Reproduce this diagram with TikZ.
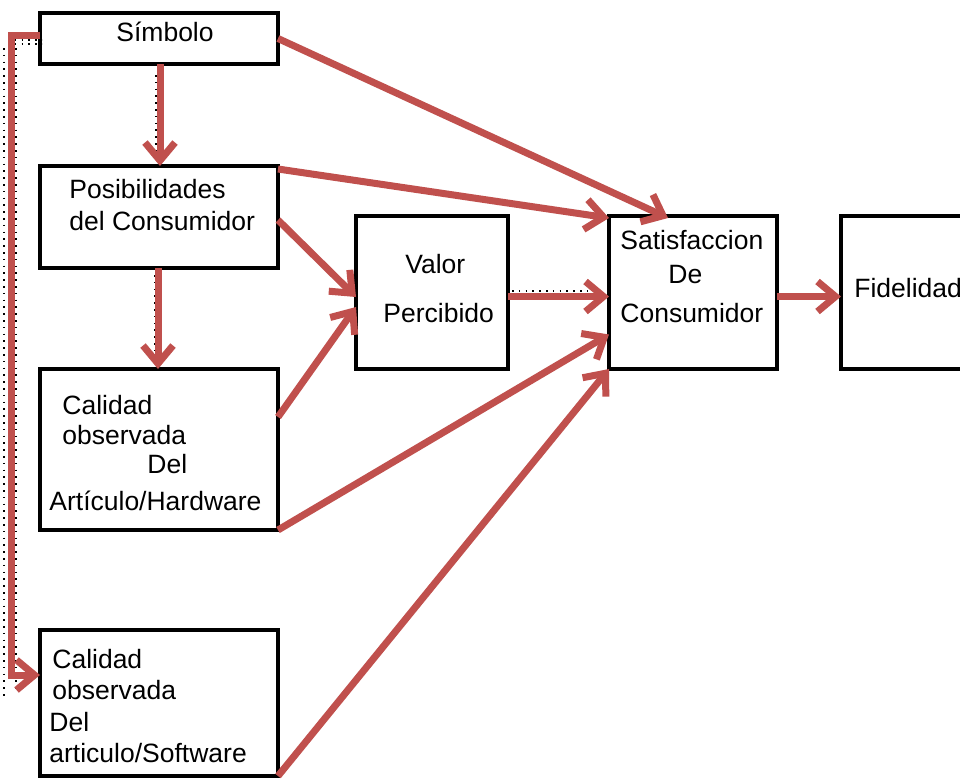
\documentclass[tikz,border=0pt]{standalone}
\usepackage{fontspec}
\setmainfont{Liberation Sans}
\usetikzlibrary{arrows.meta}
\definecolor{flowred}{HTML}{C0504D}
\tikzset{
  box/.style={draw=black, line width=2pt, inner sep=0pt, outer sep=0pt, anchor=north west},
  lbl/.style={anchor=base west, inner sep=0pt, font=\fontsize{13.25}{16}\selectfont},
  flow/.style={draw=flowred, line width=3.5pt, -{Straight Barb[length=9pt,width=15pt]}},
  ghost/.style={draw=black, line width=0.7pt, dash pattern=on 0.8pt off 2.6pt},
}
\begin{document}
\begin{tikzpicture}[x=0.5pt, y=-0.5pt]
\useasboundingbox (0,0) rectangle (960,778);

% boxes
\node[box, minimum width=119pt, minimum height=25.5pt] (sim) at (40,13) {};
\node[box, minimum width=119pt, minimum height=51pt]   (pos) at (40,166) {};
\node[box, minimum width=119pt, minimum height=80.5pt] (hw)  at (40,369) {};
\node[box, minimum width=119pt, minimum height=73pt]   (sw)  at (40,630) {};
\node[box, minimum width=76pt,  minimum height=76.5pt] (val) at (356,216) {};
\node[box, minimum width=84pt,  minimum height=76.5pt] (sat) at (609,216) {};
\node[box, minimum width=70pt,  minimum height=76.5pt] (fid) at (841,216) {};

% texts
\node[lbl] (tsim)  at (116,41)  {Símbolo};
\node[lbl] (tpos1) at (69,198)  {Posibilidades};
\node[lbl] (tpos2) at (69,230)  {del Consumidor};
\node[lbl] (thw1)  at (62,414)  {Calidad};
\node[lbl] (thw2)  at (62,444)  {observada};
\node[lbl] (thw3)  at (147,473) {Del};
\node[lbl] (thw4)  at (49,510)  {Artículo/Hardware};
\node[lbl] (tsw1)  at (52,668)  {Calidad};
\node[lbl] (tsw2)  at (52,699)  {observada};
\node[lbl] (tsw3)  at (49,731)  {Del};
\node[lbl] (tsw4)  at (49,762)  {articulo/Software};
\node[lbl] (tval1) at (405,273) {Valor};
\node[lbl] (tval2) at (383,322) {Percibido};
\node[lbl] (tsat1) at (620,249) {Satisfaccion};
\node[lbl] (tsat2) at (668,283) {De};
\node[lbl] (tsat3) at (620,322) {Consumidor};
\node[lbl] (tfid)  at (854,297) {Fidelidad};

% faint dotted traces next to some connectors
\draw[ghost] (8,40) -- (42,40);
\draw[ghost] (8,44) -- (42,44);
\draw[ghost] (4,48) -- (4,700);
\draw[ghost] (16,48) -- (16,690);
\draw[ghost] (156,75) -- (156,158);
\draw[ghost] (163,75) -- (163,158);
\draw[ghost] (155,275) -- (155,362);
\draw[ghost] (161,275) -- (161,362);
\draw[ghost] (512,291) -- (600,291);

% connectors
\draw[flow] (sim.east) -- ([xshift=29.5pt,yshift=-1pt]sat.north west);
\draw[flow] ([yshift=-1.5pt]pos.north east) -- ([yshift=-1pt]sat.north west);
\draw[flow] ([yshift=-1.5pt]pos.east) -- ([yshift=-2.25pt]val.west);
\draw[flow] ([yshift=-24pt]hw.north east) -- ([yshift=-7.25pt]val.west);
\draw[flow] ([yshift=-2pt]val.east) -- ([yshift=-2pt]sat.west);
\draw[flow] (hw.south east) -- ([yshift=-21pt]sat.west);
\draw[flow] (sw.south east) -- (sat.south west);
\draw[flow] ([yshift=-2pt]sat.east) -- ([yshift=-2pt]fid.west);
\draw[flow] ([xshift=0.5pt]sim.south) -- ([xshift=0.5pt]pos.north);
\draw[flow] ([xshift=-0.5pt]pos.south) -- ([xshift=-0.5pt]hw.north);
\draw[flow] ([yshift=1.5pt]sim.west) -- ++(-14.5pt,0) |- ([yshift=-22.5pt]sw.north west);
\end{tikzpicture}
\end{document}
